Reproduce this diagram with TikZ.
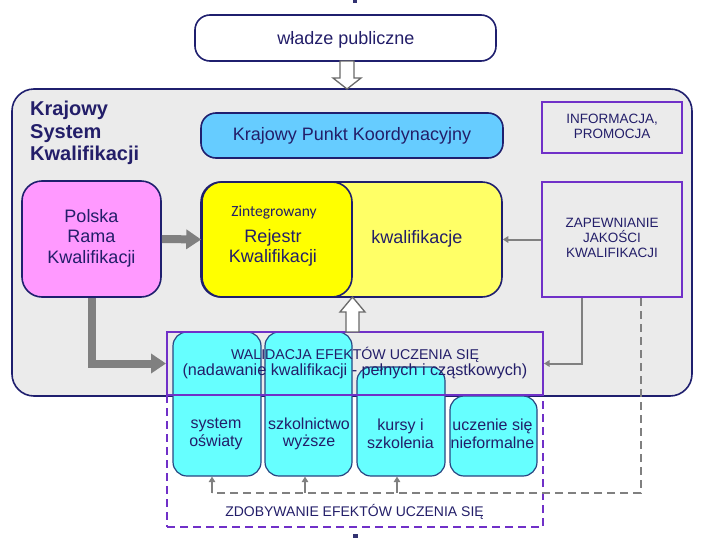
\documentclass[tikz,border=0pt]{standalone}
\usepackage{fontspec}
\setmainfont{Liberation Sans}
\newfontfamily\carlito{Carlito}
\usetikzlibrary{arrows.meta,calc}
\definecolor{navy}{RGB}{31,31,110}
\definecolor{txt}{RGB}{35,30,105}
\definecolor{mgrey}{RGB}{235,235,235}
\definecolor{kpkblue}{RGB}{102,204,255}
\definecolor{pinkf}{RGB}{255,153,255}
\definecolor{yel}{RGB}{255,255,0}
\definecolor{ltyel}{RGB}{255,255,102}
\definecolor{cyanf}{RGB}{102,255,255}
\definecolor{cyanb}{RGB}{40,70,130}
\definecolor{purp}{RGB}{112,48,200}
\definecolor{arrgrey}{RGB}{128,128,128}
\definecolor{hollowgrey}{RGB}{105,105,105}
\begin{document}
\begin{tikzpicture}[x=1pt,y=-1pt,
  rbox/.style={draw=navy,line width=1.6pt,rounded corners=15pt,inner sep=0pt},
  pbox/.style={draw=purp,line width=2pt,inner sep=0pt},
  cbox/.style={draw=cyanb,line width=1.2pt,fill=cyanf,rounded corners=14pt,inner sep=0pt},
  t18/.style={font=\fontsize{18}{20.5}\selectfont,text=txt,align=center,inner sep=0pt},
  t16/.style={font=\fontsize{16}{17.5}\selectfont,text=txt,align=center,inner sep=0pt},
  t14/.style={font=\fontsize{13.5}{15}\selectfont,text=txt,align=center,inner sep=0pt},
  thickarr/.style={draw=arrgrey,line width=8pt,-{Triangle[width=19pt,length=15pt]}},
  thinarr/.style={draw=arrgrey,line width=2pt,-{Triangle[width=6.5pt,length=5.5pt]}},
  greydash/.style={draw=arrgrey,line width=2pt,dash pattern=on 8pt off 5pt},
  hollow/.style={draw=hollowgrey,fill=white,line width=1.3pt,line join=miter}
]
\useasboundingbox (0,0) rectangle (711,538);
% tiny marks
\fill[navy!80!gray] (353,0) rectangle (357,3);
\fill[navy!80!gray] (353,534) rectangle (358,538);

% public authorities
\node[rbox,fill=white,minimum width=301pt,minimum height=46pt] (wladze) at (345.5,38) {};
\node[t18] (wladzeT) at (346,40) {władze publiczne};

% main system box
\node[rbox,fill=mgrey,rounded corners=22pt,minimum width=680pt,minimum height=307pt] (main) at (352,242.5) {};
\node[anchor=west,align=left,font=\bfseries\fontsize{20}{22.5}\selectfont,text=txt,inner sep=0pt] (ksk) at (30,133) {Krajowy\\System\\Kwalifikacji};

% hollow arrow top
\draw[hollow] (340,61) -- (354,61) -- (354,78) -- (361,78) -- (347,89) -- (333,78) -- (340,78) -- cycle;

% KPK
\node[rbox,fill=kpkblue,minimum width=302pt,minimum height=45pt] (kpk) at (352,135.5) {};
\node[t18] (kpkT) at (352,136) {Krajowy Punkt Koordynacyjny};

% INFORMACJA
\node[pbox,minimum width=140pt,minimum height=51pt] (info) at (612,127.5) {};
\node[t14] (infoT) at (612,126) {INFORMACJA,\\PROMOCJA};

% Polska Rama
\node[rbox,fill=pinkf,rounded corners=20pt,minimum width=139pt,minimum height=116pt] (polska) at (91.5,239) {};
\node[t18] (polskaT) at (91.5,238) {Polska\\Rama\\Kwalifikacji};

% kwalifikacje (outer yellow) and Rejestr (inner)
\node[rbox,fill=ltyel,rounded corners=20pt,minimum width=301pt,minimum height=115pt] (kwal) at (351.5,239.5) {};
\node[t18] (kwalT) at (417,239) {kwalifikacje};
\node[rbox,fill=yel,rounded corners=20pt,minimum width=150pt,minimum height=115pt] (rejestr) at (277,239.5) {};
\node[font=\carlito\fontsize{15.5}{17}\selectfont,text=txt,inner sep=0pt] (zint) at (274,212) {Zintegrowany};
\node[t18] (rejT) at (273,248) {Rejestr\\Kwalifikacji};

% ZAPEWNIANIE
\node[pbox,minimum width=140pt,minimum height=115pt] (zap) at (612,239.5) {};
\node[t14] (zapT) at (612,237.5) {ZAPEWNIANIE\\JAKOŚCI\\KWALIFIKACJI};

% cyan boxes
\node[cbox,minimum width=88pt,minimum height=144pt] (sys) at (217,404) {};
\node[cbox,minimum width=87pt,minimum height=144pt] (szk) at (308.5,404) {};
\node[cbox,minimum width=88pt,minimum height=109pt] (kurs) at (401,421.5) {};
\node[cbox,minimum width=87pt,minimum height=80pt] (ucz) at (493.5,436) {};
\node[t16] (sysT) at (216,434) {system\\oświaty};
\node[t16] (szkT) at (309,434) {szkolnictwo\\wyższe};
\node[t16] (kursT) at (400.5,434) {kursy i\\szkolenia};
\node[t16] (uczT) at (492.5,434) {uczenie się\\nieformalne};

% dashed ZDOBYWANIE box and validation box
\node[draw=purp,line width=2pt,dash pattern=on 8pt off 5pt,minimum width=376pt,minimum height=132pt,inner sep=0pt] (zdob) at (355,461) {};
\node[pbox,minimum width=376pt,minimum height=63pt] (walid) at (355,363.5) {};
\node[anchor=base,inner sep=0pt,text=txt,font=\fontsize{14.2}{16}\selectfont] (walT1) at (355,359) {WALIDACJA EFEKTÓW UCZENIA SIĘ};
\node[anchor=base,inner sep=0pt,text=txt,font=\fontsize{16.2}{18}\selectfont] (walT2) at (355,375.5) {(nadawanie kwalifikacji - pełnych i cząstkowych)};
\node[anchor=base,inner sep=0pt,text=txt,font=\fontsize{14}{16}\selectfont] (zdobT) at (354.5,516) {ZDOBYWANIE EFEKTÓW UCZENIA SIĘ};

% hollow arrow middle
\draw[hollow] (346,332) -- (359,332) -- (359,312) -- (365,312) -- (352.5,297) -- (340,312) -- (346,312) -- cycle;

% connectors
\draw[thickarr] (polska.east) -- (rejestr.west);
\draw[thickarr] (polska.south) |- (walid.west);
\draw[thinarr] (zap.west) -- (kwal.east);
\draw[thinarr] ([xshift=-30pt]zap.south) |- (walid.east);

% grey dashed feedback
\coordinate (dR) at ([xshift=29pt]zap.south);
\coordinate (a1) at (212,493);
\coordinate (a2) at (305,493);
\coordinate (a3) at (397,493);
\draw[greydash] (dR) |- (a1);
\draw[thinarr] (a1) -- (a1 |- sys.south);
\draw[thinarr] (a2) -- (a2 |- szk.south);
\draw[thinarr] (a3) -- (a3 |- kurs.south);
\end{tikzpicture}
\end{document}
